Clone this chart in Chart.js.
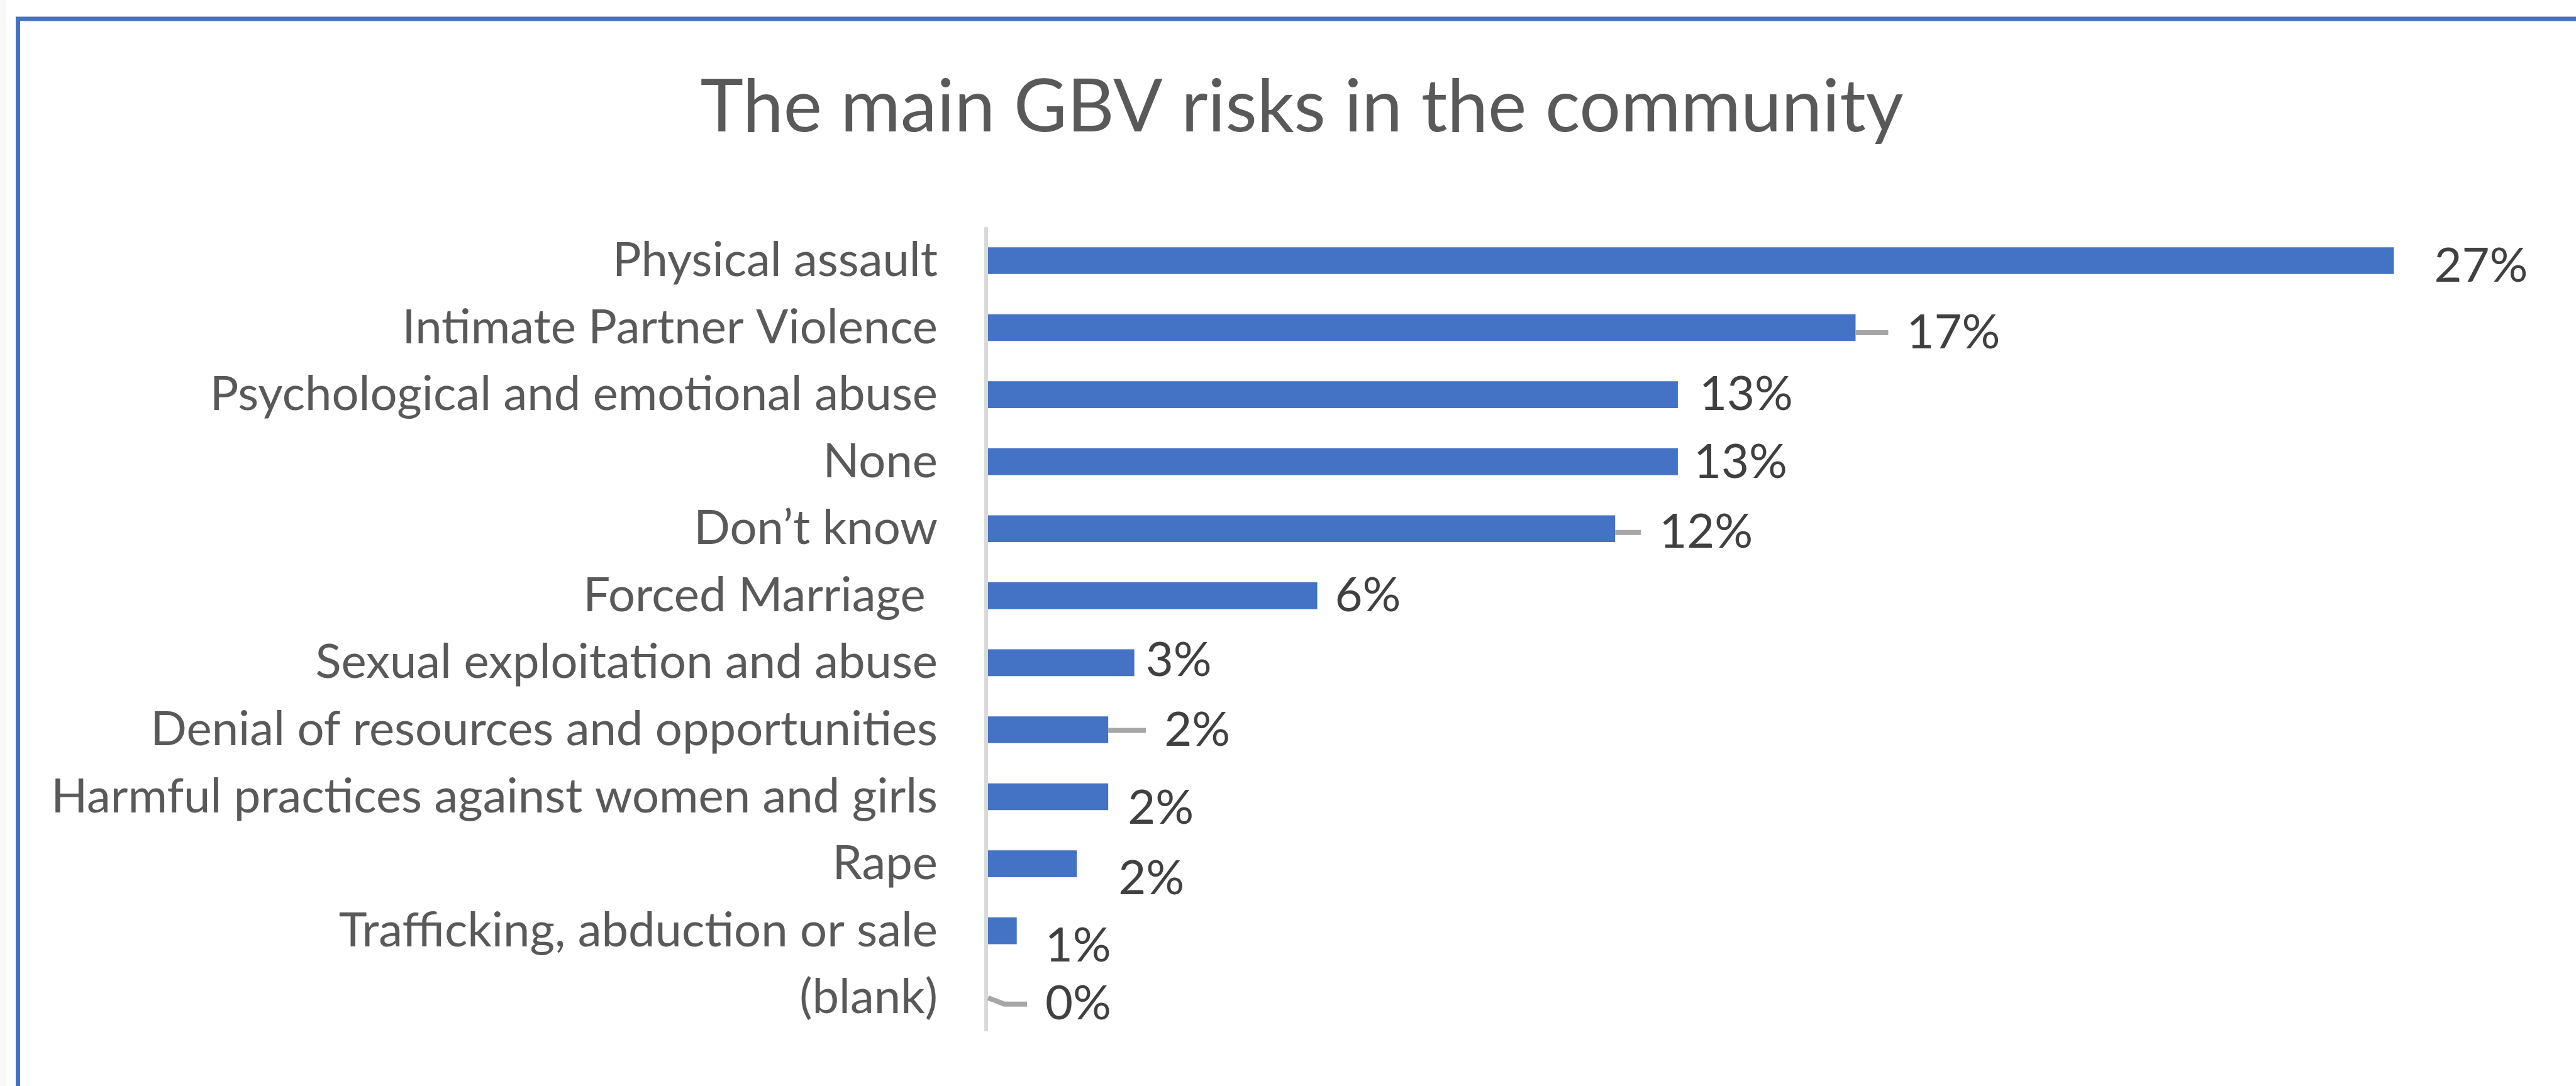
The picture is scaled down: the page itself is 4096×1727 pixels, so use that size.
<!DOCTYPE html>
<html>
<head>
<meta charset="utf-8">
<title>The main GBV risks in the community</title>
<script src="https://cdn.jsdelivr.net/npm/chart.js@4.4.1/dist/chart.umd.min.js"></script>
<style>
  html, body { margin: 0; padding: 0; background: #ffffff; }
  #wrap { width: 4096px; height: 1727px; position: relative; }
</style>
</head>
<body>
<div id="wrap"><canvas id="risks-chart"></canvas></div>
<script>
// survey answers, top to bottom
const categories = [
  "Physical assault",
  "Intimate Partner Violence",
  "Psychological and emotional abuse",
  "None",
  "Don’t know",
  "Forced Marriage ",
  "Sexual exploitation and abuse",
  "Denial of resources and opportunities",
  "Harmful practices against women and girls",
  "Rape",
  "Trafficking, abduction or sale",
  "(blank)",
];
// share of respondents (%)
const shares = [26.9, 16.6, 13.2, 13.2, 12.0, 6.3, 2.8, 2.3, 2.3, 1.7, 0.55, 0];
const shareRange = [0, 30];

const BLUE = "#4472c4";
const TEXT_GREY = "#595959";
const LABEL_DARK = "#404040";
const FONT = "Lato";

// label tweaks: [dx, dy, leader line] - some labels were dragged off the bar end
const labelNudge = [
  [36, 9, false],
  [53, 8, true],
  [6, 0, false],
  [-3, 1, false],
  [42, 6, true],
  [0, 0, false],
  [-10, -3, false],
  [61, 1, true],
  [3, 18, false],
  [38, 24, false],
  [17, 24, false],
  [63, 10, true],
];

// outer frame of the chart object (left and top edges only are visible)
const frame = {
  id: "frame",
  beforeDraw(chart) {
    const ctx = chart.ctx;
    ctx.save();
    ctx.fillStyle = "#f8f8f8";
    ctx.fillRect(0, 0, 10, chart.height);
    ctx.strokeStyle = BLUE;
    ctx.lineWidth = 7;
    ctx.beginPath();
    ctx.moveTo(chart.width, 30);
    ctx.lineTo(28.5, 30);
    ctx.lineTo(28.5, chart.height);
    ctx.stroke();
    ctx.restore();
  },
};

// grey category axis line
const axisLine = {
  id: "axisLine",
  beforeDatasetsDraw(chart) {
    const { ctx, chartArea } = chart;
    ctx.save();
    ctx.fillStyle = "#d9d9d9";
    ctx.fillRect(chartArea.left - 6, chartArea.top, 6, chartArea.bottom - chartArea.top);
    ctx.restore();
  },
};

// percentage labels at the bar ends, with leader lines for the moved ones
const valueLabels = {
  id: "valueLabels",
  afterDatasetsDraw(chart, args, opts) {
    const ctx = chart.ctx;
    const values = chart.data.datasets[0].data;
    ctx.save();
    ctx.font = opts.size + "px " + FONT;
    ctx.textBaseline = "middle";
    ctx.textAlign = "left";
    chart.getDatasetMeta(0).data.forEach((bar, i) => {
      const [dx, dy, leader] = opts.nudge[i] || [0, 0, false];
      const x = bar.x + opts.gap + dx;
      const y = bar.y + dy;
      if (leader) {
        const half = bar.height / 2;
        const startY = values[i] > 0 && Math.abs(dy) <= half ? y : bar.y;
        ctx.strokeStyle = "#a6a6a6";
        ctx.lineWidth = 8;
        ctx.beginPath();
        ctx.moveTo(bar.x, startY);
        if (startY !== y) ctx.lineTo(bar.x + 26, y);
        ctx.lineTo(x - opts.leaderGap, y);
        ctx.stroke();
      }
      ctx.fillStyle = LABEL_DARK;
      ctx.fillText(Math.round(values[i]) + "%", x, y);
    });
    ctx.restore();
  },
};

const riskChart = new Chart(document.getElementById("risks-chart"), {
  type: "bar",
  data: {
    labels: categories,
    datasets: [
      {
        label: "Share",
        data: shares,
        backgroundColor: BLUE,
        borderWidth: 0,
        barPercentage: 0.4,
        categoryPercentage: 1,
      },
    ],
  },
  options: {
    indexAxis: "y",
    responsive: true,
    maintainAspectRatio: false,
    animation: false,
    layout: {
      padding: { left: 76, right: 32, top: 0, bottom: 87 },
    },
    scales: {
      x: {
        min: shareRange[0],
        max: shareRange[1],
        display: false,
      },
      y: {
        grid: { display: false, drawTicks: false },
        border: { display: false },
        ticks: {
          autoSkip: false,
          padding: 80,
          color: TEXT_GREY,
          font: { family: FONT, size: 76 },
        },
        afterFit(scale) {
          // fixed label column; no extra room above/below for the end labels
          scale.width = 1571 - 76;
          scale.paddingTop = 0;
          scale.paddingBottom = 0;
        },
      },
    },
    plugins: {
      legend: { display: false },
      tooltip: { enabled: false },
      title: {
        display: true,
        text: "The main GBV risks in the community",
        color: TEXT_GREY,
        font: { family: FONT, size: 116, weight: "normal" },
        padding: { top: 102, bottom: 120 },
      },
      valueLabels: {
        size: 76,
        gap: 28,
        leaderGap: 29,
        nudge: labelNudge,
      },
    },
  },
  plugins: [frame, axisLine, valueLabels],
});
</script>
</body>
</html>
